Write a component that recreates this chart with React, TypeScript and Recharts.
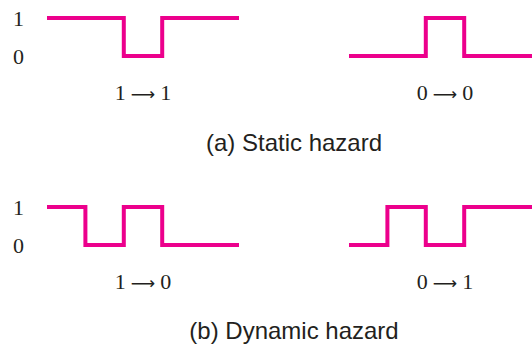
import React from 'react';
import { LineChart, Line, XAxis, YAxis } from 'recharts';

const timeSteps = [0, 1, 2, 3, 4, 5];
const levelTicks = [0, 1];
const staticOneLevels = [1, 1, 0, 1, 1, 1];
const staticZeroLevels = [0, 0, 1, 0, 0, 0];
const dynamicOneToZeroLevels = [1, 0, 1, 0, 0, 0];
const dynamicZeroToOneLevels = [0, 1, 0, 1, 1, 1];
const transitionFrom = ['1', '0', '1', '0'];
const transitionTo = ['1', '0', '0', '1'];
const captions = ['(a) Static hazard', '(b) Dynamic hazard'];

const WAVE_COLOR = '#ec008c';
const TEXT_COLOR = '#231f20';
const SERIF = '"Liberation Serif", "Times New Roman", serif';

type WaveProps = {
  levels: number[];
  from: string;
  to: string;
  showTicks: boolean;
  left: number;
  top: number;
};

function makeLabelContent(from: string, to: string) {
  return (props: any) => {
    const vb = props.viewBox || {};
    const cx = (vb.x ?? 47) + (vb.width ?? 192) / 2;
    const cy = (vb.y ?? 56) + 44;
    return (
      <text
        x={cx}
        y={cy}
        textAnchor="middle"
        style={{ fontSize: 22, fontFamily: SERIF, fill: TEXT_COLOR }}
      >
        <tspan>{from}</tspan>
        <tspan dx={5} style={{ fontFamily: '"DejaVu Sans"', fontSize: 17 }}>
          ⟶
        </tspan>
        <tspan dx={5}>{to}</tspan>
      </text>
    );
  };
}

function Wave({ levels, from, to, showTicks, left, top }: WaveProps) {
  const data = timeSteps.map((t, i) => ({ t, v: levels[i] }));
  return (
    <div style={{ position: 'absolute', left, top }}>
      <LineChart
        width={266}
        height={110}
        data={data}
        margin={{ top: 18, right: 27, left: 0, bottom: 0 }}
      >
        <XAxis
          dataKey="t"
          type="number"
          domain={[0, 5]}
          tick={false}
          tickLine={false}
          axisLine={false}
          height={54}
          label={{ content: makeLabelContent(from, to) }}
        />
        <YAxis
          type="number"
          domain={[0, 1]}
          ticks={levelTicks}
          width={47}
          axisLine={false}
          tickLine={false}
          tickSize={0}
          tickMargin={23}
          tick={
            showTicks
              ? { fontSize: 22, fontFamily: SERIF, fill: TEXT_COLOR }
              : false
          }
        />
        <Line
          type="stepAfter"
          dataKey="v"
          stroke={WAVE_COLOR}
          strokeWidth={4}
          dot={false}
          activeDot={false}
          isAnimationActive={false}
        />
      </LineChart>
    </div>
  );
}

const captionStyle: React.CSSProperties = {
  position: 'absolute',
  left: 144,
  width: 300,
  height: 24,
  lineHeight: '24px',
  textAlign: 'center',
  fontFamily: '"Liberation Sans", Arial, Helvetica, sans-serif',
  fontSize: 24,
  color: TEXT_COLOR,
  whiteSpace: 'nowrap',
};

export default function App() {
  return (
    <div
      style={{
        position: 'fixed',
        left: 0,
        top: 0,
        width: 532,
        height: 345,
        overflow: 'hidden',
        background: '#ffffff',
      }}
    >
      <Wave levels={staticOneLevels} from={transitionFrom[0]} to={transitionTo[0]} showTicks left={0} top={0} />
      <Wave levels={staticZeroLevels} from={transitionFrom[1]} to={transitionTo[1]} showTicks={false} left={302} top={0} />
      <div style={{ ...captionStyle, top: 131 }}>{captions[0]}</div>
      <Wave levels={dynamicOneToZeroLevels} from={transitionFrom[2]} to={transitionTo[2]} showTicks left={0} top={189} />
      <Wave levels={dynamicZeroToOneLevels} from={transitionFrom[3]} to={transitionTo[3]} showTicks={false} left={302} top={189} />
      <div style={{ ...captionStyle, top: 319 }}>{captions[1]}</div>
    </div>
  );
}
